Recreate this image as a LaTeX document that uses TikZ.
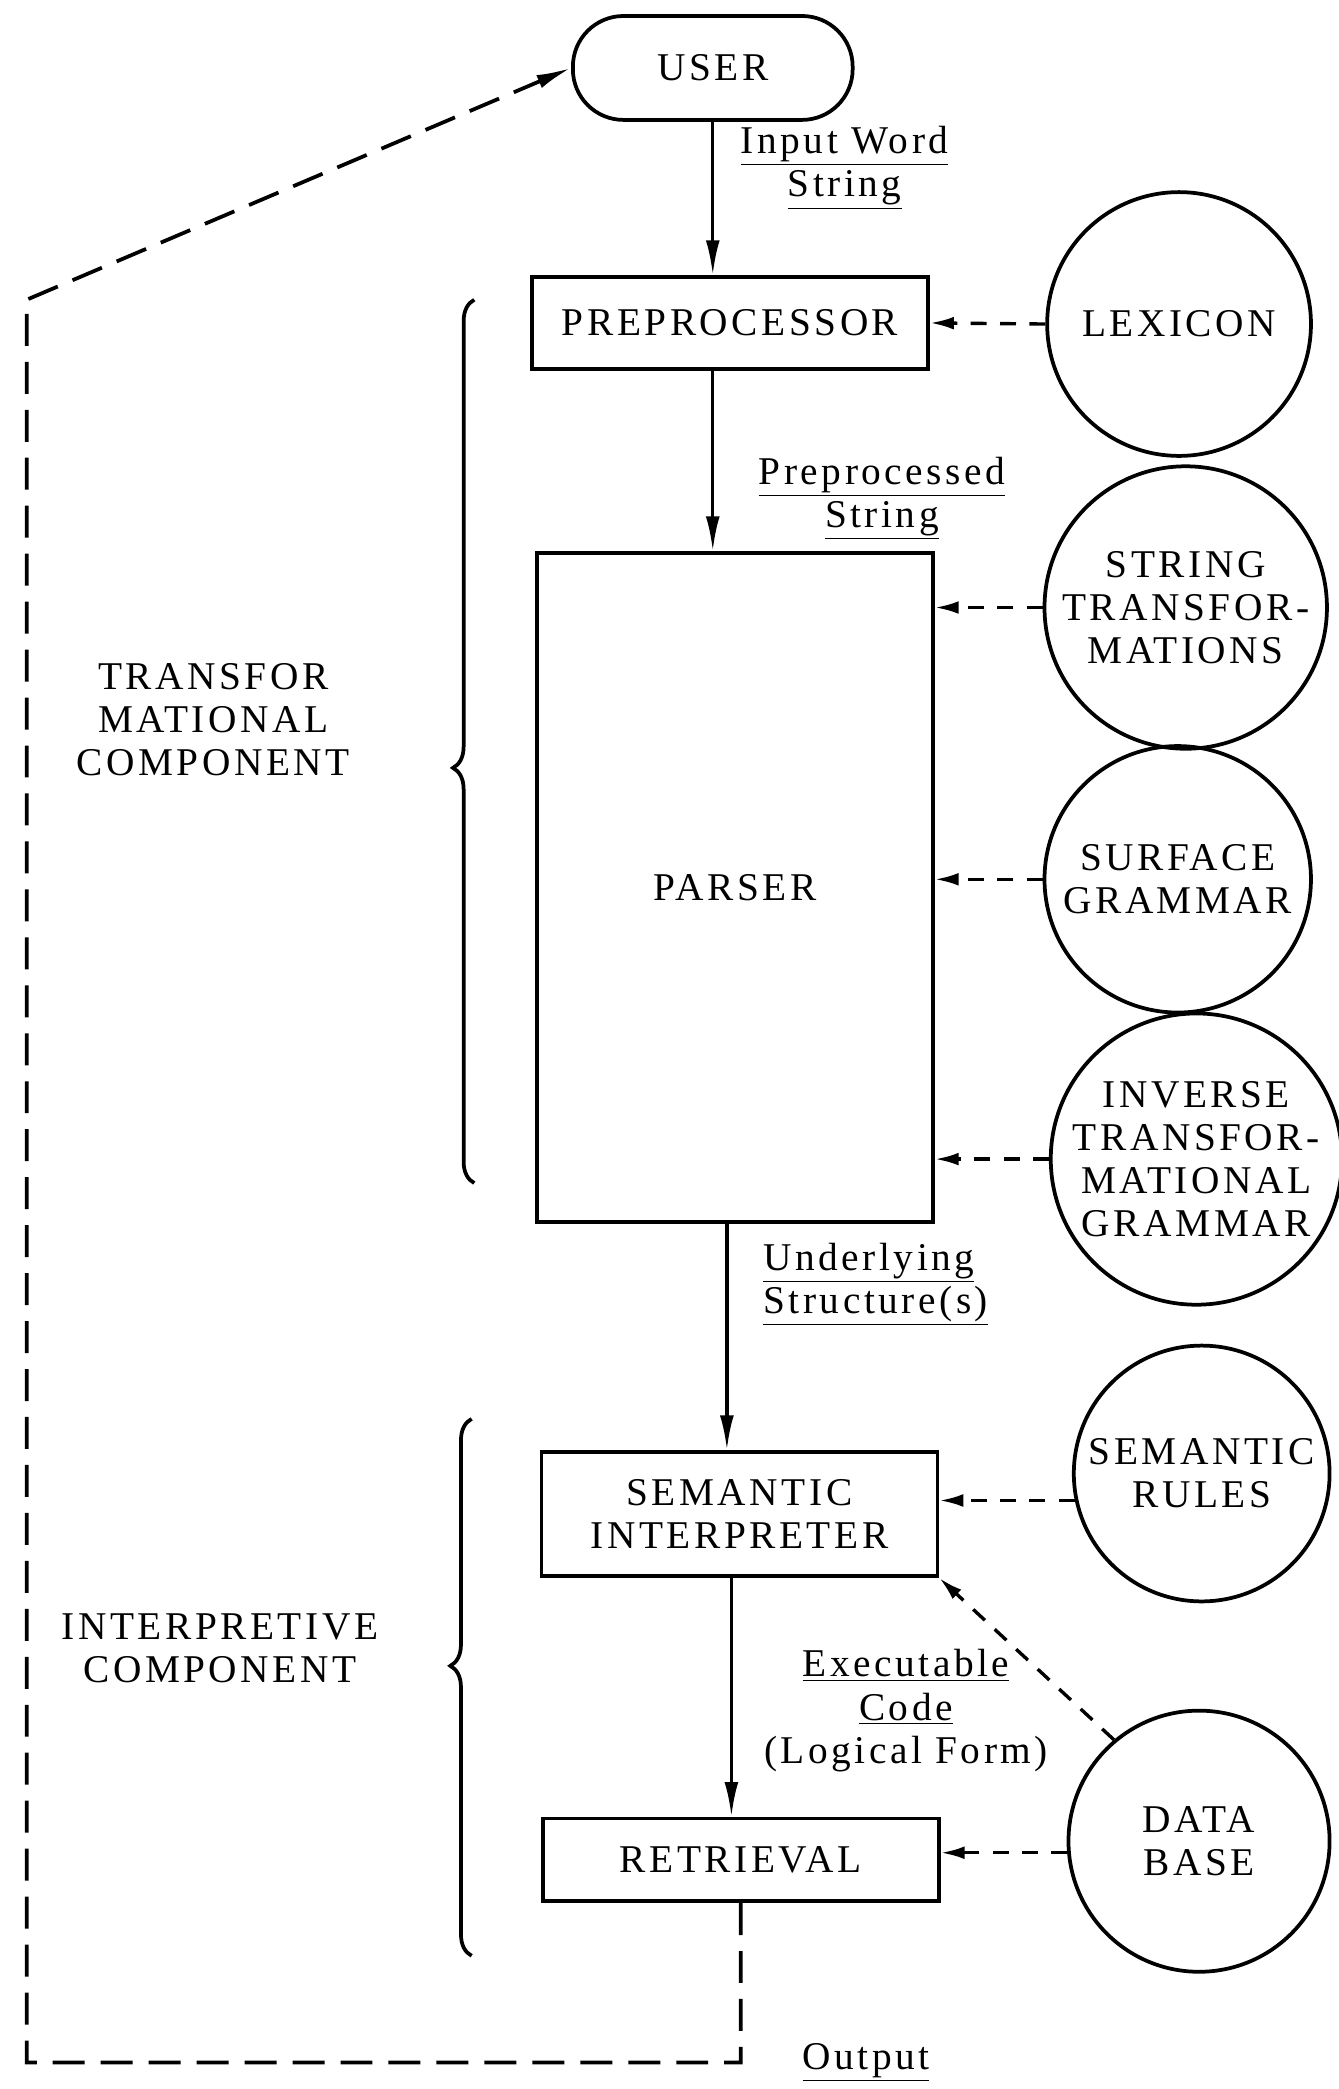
\documentclass[tikz,border=0pt]{standalone}
\usepackage{fontspec}
\setmainfont{Liberation Serif}[LetterSpace=9]
\usetikzlibrary{arrows.meta,decorations.pathreplacing}

\begin{document}
\begin{tikzpicture}[font=\fontsize{21}{23}\selectfont,
    box/.style={draw, line width=2pt, minimum width=7.43cm, align=center},
    bubble/.style={draw, circle, line width=2pt, inner sep=0pt, align=center},
    flow/.style={-{Latex[length=0.65cm,width=0.26cm]}, line width=1.8pt},
    feed/.style={-{Latex[length=0.45cm,width=0.24cm]}, line width=1.8pt, dash pattern=on 0.3cm off 0.25cm},
    back/.style={line width=2pt, dash pattern=on 0.6cm off 0.3cm},
    grp/.style={decorate, decoration={brace, amplitude=0.4cm, aspect=#1}, line width=2pt}]

\useasboundingbox (0,0) rectangle (25.125,-39.2);

\node[draw, line width=2pt, rounded corners=0.95cm, minimum width=5.25cm, minimum height=1.95cm] (user)
    at (13.375,-1.275) {USER};

\node[box, minimum height=1.73cm] (prep)
    at (13.7,-6.06) {PREPROCESSOR};

\node[box, minimum height=12.55cm] (parser)
    at (13.79,-16.65) {PARSER};

\node[box, minimum height=2.33cm] (sem)
    at (13.875,-28.41) {SEMANTIC\\INTERPRETER};

\node[box, minimum height=1.55cm] (ret)
    at (13.9,-34.9) {RETRIEVAL};

\node[bubble, minimum size=4.95cm] (lex)
    at (22.125,-6.08) {LEXICON};

\node[bubble, minimum size=5.3cm] (strans)
    at (22.25,-11.4) {STRING\\TRANSFOR-\\MATIONS};

\node[bubble, minimum size=5cm] (surf)
    at (22.1,-16.5) {SURFACE\\GRAMMAR};

\node[bubble, minimum size=5.35cm] (inv)
    at (22.45,-21.75) {INVERSE\\TRANSFOR-\\MATIONAL\\GRAMMAR};

\node[bubble, minimum size=4.8cm] (rules)
    at (22.55,-27.65) {SEMANTIC\\RULES};

\node[bubble, minimum size=4.9cm] (db)
    at (22.5,-34.55) {DATA\\BASE};

\node[align=center] (inlbl) at (15.85,-3.15) {\underline{Input Word}\\\underline{String}};
\node[align=center] (pplbl) at (16.55,-9.35) {\underline{Preprocessed}\\\underline{String}};
\node[align=left, anchor=west] (ullbl) at (14.2,-24.1) {\underline{Underlying}\\\underline{Structure(s)}};
\node[align=center] (eclbl) at (17.0,-32.1) {\underline{Executable}\\\underline{Code}\\(Logical Form)};
\node (outlbl) at (16.25,-38.7) {\underline{Output}};

\node[align=center] (tclbl) at (4.0,-13.5) {TRANSFOR\\MATIONAL\\COMPONENT};
\node[align=center] (iclbl) at (4.125,-30.93) {INTERPRETIVE\\COMPONENT};

\coordinate (bl) at (0.5,-38.7);
\coordinate (tl) at (0.5,-5.625);

\draw[flow] (user.south) -- (user.south |- prep.north);
\draw[flow] (prep.south -| user.south) -- (parser.north -| user.south);
\draw[flow] ([xshift=-0.15cm]parser.south) -- ([xshift=-0.15cm]parser.south |- sem.north);
\draw[flow] ([xshift=-0.15cm]sem.south) -- ([xshift=-0.15cm]sem.south |- ret.north);

\draw[feed] (lex.west) -- (prep.east);
\draw[feed] (strans.west) -- (strans.west -| parser.east);
\draw[feed] (surf.west) -- (surf.west -| parser.east);
\draw[feed] (inv.west) -- (inv.west -| parser.east);
\draw[feed] (rules.192) -- (rules.192 -| sem.east);
\draw[feed] (db.130) -- (sem.south east);
\draw[feed] (db.185) -- (db.185 -| ret.east);

\draw[back, -{Latex[length=0.65cm,width=0.26cm]}] (ret.south) |- (bl) -- (tl) -- (user.west);

\draw[grp=0.47] (8.9,-22.2) -- (8.9,-5.625);
\draw[grp=0.54] (8.85,-36.7) -- (8.85,-26.625);

\end{tikzpicture}
\end{document}
